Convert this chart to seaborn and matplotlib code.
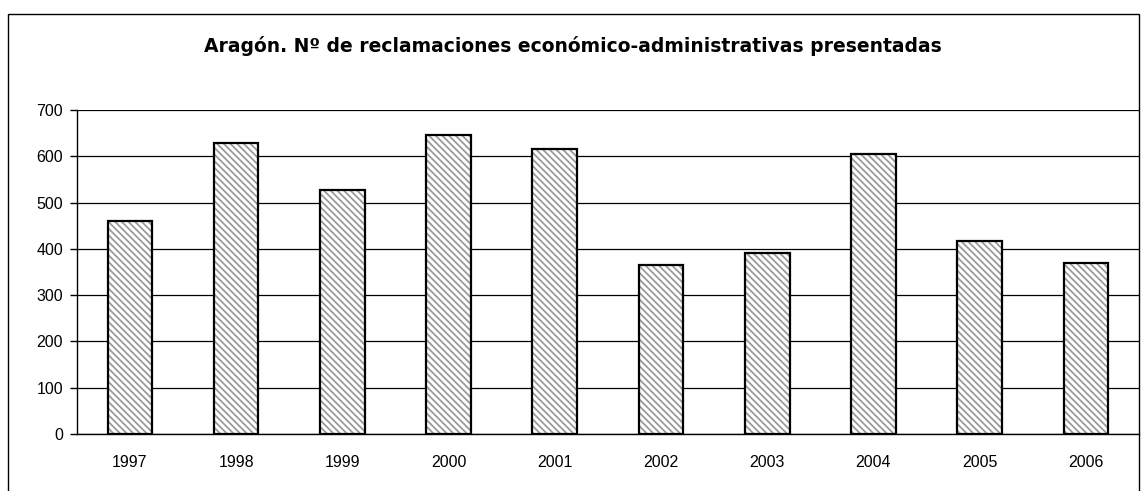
import matplotlib
matplotlib.use('Agg')
import matplotlib.pyplot as plt
import seaborn as sns
import pandas as pd
from matplotlib.patches import Rectangle

years = ['1997', '1998', '1999', '2000', '2001', '2002', '2003', '2004', '2005', '2006']
reclamaciones = [461, 628, 528, 647, 616, 366, 391, 605, 416, 370]
y_ticks = [0, 100, 200, 300, 400, 500, 600, 700]

df = pd.DataFrame({'Año': years, 'Reclamaciones': reclamaciones})

sns.set_style('white')
plt.rcParams['font.family'] = ['Liberation Sans', 'DejaVu Sans']
plt.rcParams['hatch.linewidth'] = 1.3
plt.rcParams['hatch.color'] = '#9a9a9a'
plt.rcParams['text.color'] = 'black'
plt.rcParams['xtick.color'] = 'black'
plt.rcParams['ytick.color'] = 'black'

fig = plt.figure(figsize=(11.46, 4.91), dpi=100)
ax = fig.add_axes([0.067, 0.116, 0.9269, 0.66])

# relleno rayado y contorno por separado
sns.barplot(data=df, x='Año', y='Reclamaciones', color='white', width=0.42,
            edgecolor='#9a9a9a', linewidth=0, hatch='\\\\\\\\\\', ax=ax, zorder=3)
sns.barplot(data=df, x='Año', y='Reclamaciones', fill=False, width=0.42,
            edgecolor='black', linewidth=1.6, ax=ax, zorder=4)

ax.set_ylim(0, 700)
ax.set_xlim(-0.5, len(years) - 0.5)
ax.set_yticks(y_ticks)
ax.yaxis.grid(True, color='black', linewidth=0.9)
ax.set_axisbelow(True)
ax.set_xlabel('')
ax.set_ylabel('')

ax.set_xticks([i - 0.5 for i in range(len(years) + 1)], minor=True)
ax.tick_params(axis='x', which='major', length=0, labelsize=11.5, pad=15)
ax.tick_params(axis='x', which='minor', length=5, width=1, color='black', direction='out')
ax.tick_params(axis='y', length=5, width=1, color='black', direction='out', labelsize=11.5, left=True, pad=5)

for side in ['top', 'right']:
    ax.spines[side].set_visible(False)
ax.spines['left'].set_color('black')
ax.spines['bottom'].set_color('black')
ax.spines['left'].set_linewidth(1)
ax.spines['bottom'].set_linewidth(1)

fig.text(0.5, 0.906, 'Aragón. Nº de reclamaciones económico-administrativas presentadas',
         ha='center', va='center', fontsize=13.5, fontweight='bold',
         color='black', family=['DejaVu Sans'])

fig.patches.append(Rectangle((8 / 1146, -0.05), 1131 / 1146, 1.05 - 14 / 491,
                             transform=fig.transFigure, fill=False,
                             edgecolor='black', linewidth=1))

plt.savefig('out.png', dpi=100)
